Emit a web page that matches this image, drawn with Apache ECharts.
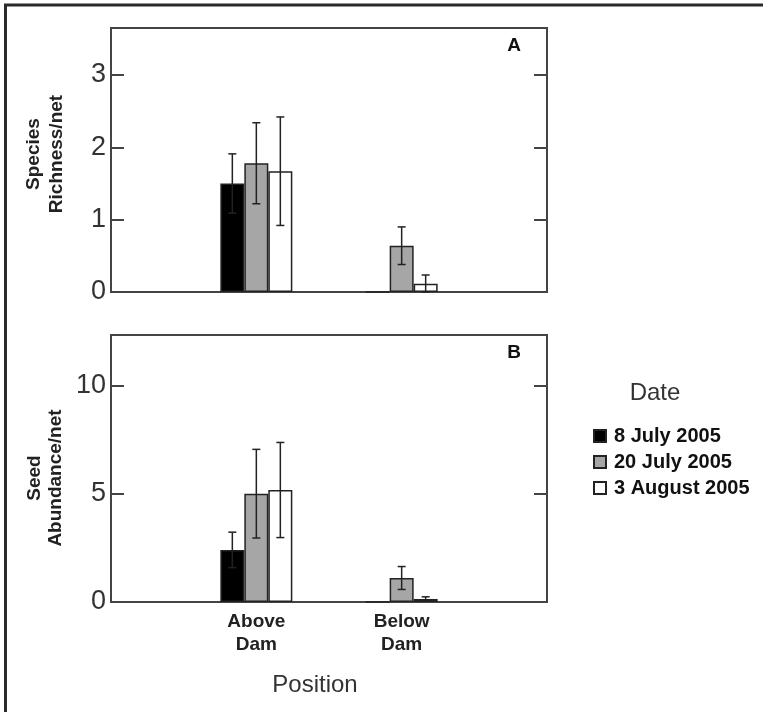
<!DOCTYPE html>
<html>
<head>
<meta charset="utf-8">
<script src="https://cdn.jsdelivr.net/npm/echarts@6/dist/echarts.min.js"></script>
<style>
  html, body { margin: 0; padding: 0; background: #fff; }
  #chart { width: 763px; height: 712px; }
</style>
</head>
<body>
<div id="chart"></div>
<script>
// positions along the river and sampling dates
const positions = ['Above\nDam', 'Below\nDam'];
const dates = ['8 July 2005', '20 July 2005', '3 August 2005'];

// A: species richness per net (mean, se)
const richness8Jul = [1.5, 0];
const richness20Jul = [1.78, 0.64];
const richness3Aug = [1.67, 0.115];
const richness8JulSE = [0.41, 0];
const richness20JulSE = [0.56, 0.26];
const richness3AugSE = [0.75, 0.12];

// B: seed abundance per net (mean, se)
const abundance8Jul = [2.41, 0];
const abundance20Jul = [5.01, 1.11];
const abundance3Aug = [5.18, 0.14];
const abundance8JulSE = [0.82, 0];
const abundance20JulSE = [2.05, 0.53];
const abundance3AugSE = [2.2, 0.1];

// y ticks
const richnessTicks = [0, 1, 2, 3];
const abundanceTicks = [0, 5, 10];

const FONT = 'Liberation Sans, Arial, Helvetica, sans-serif';
const BAR_W = 24;
const fills = ['#000000', '#a6a6a6', '#ffffff'];

// pad with an empty slot on each side so the two groups sit at 1/3 and 2/3
const categories = [''].concat(positions, ['']);
const pad = arr => [null].concat(arr, [null]);

function barSeries(name, data, idx, grid) {
  return {
    name: name,
    type: 'bar',
    xAxisIndex: grid,
    yAxisIndex: grid * 2,
    barWidth: BAR_W,
    barGap: '0%',
    data: pad(data),
    itemStyle: { color: fills[idx], borderColor: '#222', borderWidth: 1.5 },
    silent: true,
    z: 2
  };
}

function errSeries(means, ses, idx, grid) {
  let pts = [];
  means.forEach((m, i) => {
    if (ses[i] > 0) pts.push([i + 1, m, ses[i], idx]);
  });
  return {
    type: 'custom',
    xAxisIndex: grid,
    yAxisIndex: grid * 2,
    data: pts,
    z: 5,
    silent: true,
    renderItem: function (params, api) {
      let cat = api.value(0), m = api.value(1), se = api.value(2), k = api.value(3);
      let lo = Math.max(0, m - se), hi = m + se;
      let off = (k - 1) * BAR_W;
      let top = api.coord([cat, hi]);
      let bot = api.coord([cat, lo]);
      let x = top[0] + off;
      let cap = 4;
      let st = { stroke: '#222', lineWidth: 1.5 };
      return {
        type: 'group',
        children: [
          { type: 'line', shape: { x1: x, y1: top[1], x2: x, y2: bot[1] }, style: st },
          { type: 'line', shape: { x1: x - cap, y1: top[1], x2: x + cap, y2: top[1] }, style: st },
          { type: 'line', shape: { x1: x - cap, y1: bot[1], x2: x + cap, y2: bot[1] }, style: st }
        ]
      };
    }
  };
}

function yAxes(grid, max, ticks, showLabels) {
  let inner = ticks.filter(v => v > 0);
  let left = {
    type: 'value', gridIndex: grid, position: 'left', min: 0, max: max,
    splitLine: { show: false },
    axisLine: { show: false },
    axisTick: { show: true, inside: true, length: 13, customValues: inner, lineStyle: { color: '#444', width: 2 } },
    axisLabel: { show: showLabels, customValues: ticks, fontSize: 27, color: '#333', fontFamily: FONT, margin: 5 }
  };
  let right = {
    type: 'value', gridIndex: grid, position: 'right', min: 0, max: max,
    splitLine: { show: false },
    axisLine: { show: false },
    axisTick: { show: true, inside: true, length: 13, customValues: inner, lineStyle: { color: '#444', width: 2 } },
    axisLabel: { show: false }
  };
  return [left, right];
}

function xAxis(grid, showLabels) {
  return {
    type: 'category', gridIndex: grid, data: categories, boundaryGap: false,
    axisLine: { show: false },
    axisTick: { show: false },
    axisLabel: {
      show: showLabels, interval: 0, fontSize: 19, fontWeight: 'bold', color: '#222',
      fontFamily: FONT, lineHeight: 23, margin: 8
    }
  };
}

const gridBorder = { show: true, borderColor: '#444', borderWidth: 2, backgroundColor: 'transparent' };

const option = {
  backgroundColor: '#ffffff',
  animation: false,
  textStyle: { fontFamily: FONT },
  grid: [
    Object.assign({ left: 111, top: 28, width: 436, height: 264 }, gridBorder),
    Object.assign({ left: 111, top: 335, width: 436, height: 267 }, gridBorder)
  ],
  xAxis: [xAxis(0, false), xAxis(1, true)],
  yAxis: yAxes(0, 3.65, richnessTicks, true).concat(yAxes(1, 12.35, abundanceTicks, true)),
  legend: {
    data: dates,
    orient: 'vertical',
    left: 588,
    top: 421,
    itemWidth: 12,
    itemHeight: 12,
    itemGap: 6,
    icon: 'rect',
    selectedMode: false,
    textStyle: { fontSize: 20, fontWeight: 'bold', color: '#111', fontFamily: FONT, lineHeight: 20, padding: [0, 0, 0, 3] }
  },
  series: [
    barSeries(dates[0], richness8Jul, 0, 0),
    barSeries(dates[1], richness20Jul, 1, 0),
    barSeries(dates[2], richness3Aug, 2, 0),
    barSeries(dates[0], abundance8Jul, 0, 1),
    barSeries(dates[1], abundance20Jul, 1, 1),
    barSeries(dates[2], abundance3Aug, 2, 1),
    errSeries(richness8Jul, richness8JulSE, 0, 0),
    errSeries(richness20Jul, richness20JulSE, 1, 0),
    errSeries(richness3Aug, richness3AugSE, 2, 0),
    errSeries(abundance8Jul, abundance8JulSE, 0, 1),
    errSeries(abundance20Jul, abundance20JulSE, 1, 1),
    errSeries(abundance3Aug, abundance3AugSE, 2, 1)
  ],
  graphic: [
    // outer frame, only top and left edges show in the original
    { type: 'line', shape: { x1: 4, y1: 5, x2: 763, y2: 5 }, style: { stroke: '#2a2a2a', lineWidth: 3 } },
    { type: 'line', shape: { x1: 5.5, y1: 4, x2: 5.5, y2: 712 }, style: { stroke: '#2a2a2a', lineWidth: 3 } },
    // panel letters
    { type: 'text', x: 514, y: 46, style: { text: 'A', font: 'bold 19px ' + FONT, fill: '#111', align: 'center', verticalAlign: 'middle' } },
    { type: 'text', x: 514, y: 353, style: { text: 'B', font: 'bold 19px ' + FONT, fill: '#111', align: 'center', verticalAlign: 'middle' } },
    // y axis titles
    { type: 'text', x: 45, y: 154, rotation: Math.PI / 2,
      style: { text: 'Species\nRichness/net', font: 'bold 19px ' + FONT, lineHeight: 23, fill: '#222', align: 'center', verticalAlign: 'middle' } },
    { type: 'text', x: 45, y: 478, rotation: Math.PI / 2,
      style: { text: 'Seed\nAbundance/net', font: 'bold 19px ' + FONT, lineHeight: 21, fill: '#222', align: 'center', verticalAlign: 'middle' } },
    // x axis title
    { type: 'text', x: 315, y: 685, style: { text: 'Position', font: '24px ' + FONT, fill: '#333', align: 'center', verticalAlign: 'middle' } },
    // legend heading
    { type: 'text', x: 655, y: 393, style: { text: 'Date', font: '24px ' + FONT, fill: '#333', align: 'center', verticalAlign: 'middle' } }
  ]
};

const chart = echarts.init(document.getElementById('chart'), null, { renderer: 'canvas' });
chart.setOption(option);
</script>
</body>
</html>
